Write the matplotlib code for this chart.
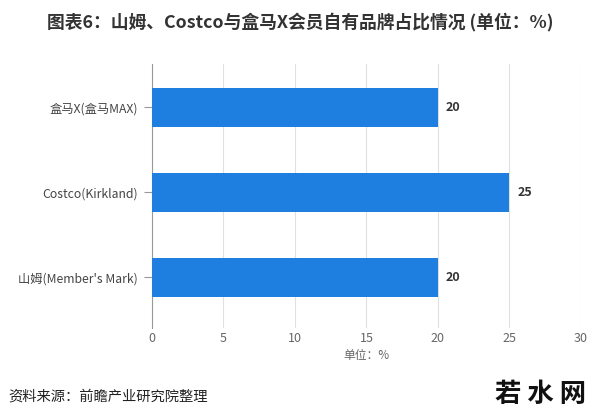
import matplotlib.pyplot as plt

plt.rcParams['font.family'] = ['Noto Sans CJK SC', 'DejaVu Sans']

# 数据
categories = ["盒马X(盒马MAX)", "Costco(Kirkland)", "山姆(Member's Mark)"]
values = [20, 25, 20]
xticks = [0, 5, 10, 15, 20, 25, 30]

fig = plt.figure(figsize=(6, 4.2), dpi=100)
ax = fig.add_axes([0.2533, 0.219, 0.715, 0.6286])

ypos = list(range(len(categories)))
ax.barh(ypos, values, height=0.46, color="#1f7fe0", zorder=3)
for y, v in zip(ypos, values):
    ax.text(v + 0.55, y, str(v), va="center", ha="left", fontsize=9,
            fontweight="bold", color="#333333")

ax.set_yticks(ypos)
ax.set_yticklabels(categories, fontsize=8.8, color="#444444")
ax.set_ylim(2.6, -0.51)
ax.set_xlim(0, 30)
ax.set_xticks(xticks)
ax.set_xticklabels([str(t) for t in xticks], fontsize=9, color="#666666")
ax.tick_params(axis="x", length=0, pad=3)
ax.tick_params(axis="y", length=6, color="#999999", pad=4)
ax.grid(axis="x", color="#e0e0e0", linewidth=0.8, zorder=0)
for s in ["top", "right", "bottom"]:
    ax.spines[s].set_visible(False)
ax.spines["left"].set_color("#999999")
ax.spines["left"].set_linewidth(0.8)
ax.set_xlabel("单位：%", fontsize=8.5, color="#666666", labelpad=3)

fig.text(0.5, 0.947, "图表6：山姆、Costco与盒马X会员自有品牌占比情况 (单位：%)",
         ha="center", va="center", fontsize=12.8, fontweight="bold", color="#333333")
fig.text(0.013, 0.055, "资料来源：前瞻产业研究院整理", ha="left", va="center",
         fontsize=10.3, color="#222222")
fig.text(0.977, 0.06, "若 水 网", ha="right", va="center", fontsize=19,
         fontweight="bold", color="#111111")

fig.savefig("out.png", dpi=100)
